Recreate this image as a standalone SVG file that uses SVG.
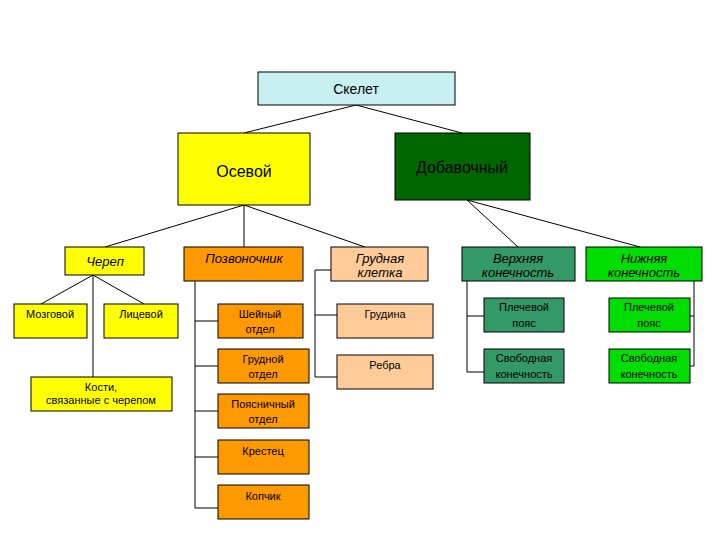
<svg xmlns="http://www.w3.org/2000/svg" width="720" height="540" viewBox="0 0 720 540">
<style>
rect{stroke:#000;stroke-width:1}
text{font-family:"Liberation Sans",Arial,sans-serif;font-size:11px;text-anchor:middle;fill:#000}
.i{font-style:italic;font-size:13px}
.b{font-size:16px}
.y{fill:#ffff00}.o{fill:#ff9900}.p{fill:#ffcc99}.dg{fill:#339966}.lg{fill:#00dd00}
#conn path{fill:none;stroke:#000;stroke-width:1}
</style>
<rect width="720" height="540" fill="#fff" style="stroke:none"/>
<g id="conn">
<path d="M356 105L244 133M356 105L462 133M244 205L105 247M244 205V247M244 205L365 247M467 200L518 247M467 200L640 247M93 275L41 304M93 275L144 304M93 275V377"/>
<path d="M195 281V508M195 321H218M195 366H218M195 411H218M195 457H218M195 508H218"/>
<path d="M331 270H315V377H337M315 315H337"/>
<path d="M467 281V372H484M467 316H484"/>
<path d="M690 316H694M694 281V366H690"/>
</g>
<g id="skelet"><rect x="258" y="72" width="197" height="33" fill="#c8f0f0"/><text x="356" y="94" class="b" style="font-size:14px">Скелет</text></g>
<g id="osevoy"><rect x="178" y="133" width="132" height="72" class="y"/><text x="244" y="177" class="b">Осевой</text></g>
<g id="dobav"><rect x="395" y="133" width="135" height="67" fill="#006600"/><text x="462" y="173" class="b">Добавочный</text></g>
<g id="cherep"><rect x="65" y="247" width="79" height="28" class="y"/><text x="105" y="266" class="i">Череп</text></g>
<g id="pozv"><rect x="184" y="247" width="119" height="34" class="o"/><text x="244" y="263" class="i">Позвоночник</text></g>
<g id="grkl"><rect x="331" y="247" width="97" height="34" class="p"/><text x="380" y="263" class="i">Грудная</text><text x="380" y="277" class="i">клетка</text></g>
<g id="verh"><rect x="462" y="247" width="113" height="34" class="dg"/><text x="518" y="263" class="i">Верхняя</text><text x="518" y="277" class="i">конечность</text></g>
<g id="nizh"><rect x="586" y="247" width="116" height="34" class="lg"/><text x="644" y="263" class="i">Нижняя</text><text x="644" y="277" class="i">конечность</text></g>
<g id="mozg"><rect x="14" y="304" width="73" height="34" class="y"/><text x="50" y="318">Мозговой</text></g>
<g id="lic"><rect x="104" y="304" width="74" height="34" class="y"/><text x="141" y="318">Лицевой</text></g>
<g id="kosti"><rect x="31" y="377" width="141" height="34" class="y"/><text x="101" y="391">Кости,</text><text x="101" y="404">связанные с черепом</text></g>
<g id="shey"><rect x="218" y="304" width="85" height="34" class="o"/><text x="260" y="318">Шейный</text><text x="260" y="333">отдел</text></g>
<g id="grud"><rect x="218" y="349" width="91" height="34" class="o"/><text x="263" y="363">Грудной</text><text x="263" y="378">отдел</text></g>
<g id="poyas"><rect x="218" y="394" width="91" height="34" class="o"/><text x="263" y="408">Поясничный</text><text x="263" y="423">отдел</text></g>
<g id="krest"><rect x="218" y="440" width="91" height="34" class="o"/><text x="263" y="455">Крестец</text></g>
<g id="kop"><rect x="218" y="485" width="91" height="34" class="o"/><text x="263" y="500">Копчик</text></g>
<g id="grudina"><rect x="337" y="304" width="96" height="34" class="p"/><text x="385" y="318">Грудина</text></g>
<g id="rebra"><rect x="337" y="355" width="96" height="34" class="p"/><text x="385" y="369">Ребра</text></g>
<g id="plech1"><rect x="484" y="298" width="80" height="34" class="dg"/><text x="524" y="311">Плечевой</text><text x="524" y="327">пояс</text></g>
<g id="svob1"><rect x="484" y="349" width="80" height="34" class="dg"/><text x="524" y="362">Свободная</text><text x="524" y="378">конечность</text></g>
<g id="plech2"><rect x="609" y="298" width="81" height="34" class="lg"/><text x="649" y="311">Плечевой</text><text x="649" y="327">пояс</text></g>
<g id="svob2"><rect x="609" y="349" width="81" height="34" class="lg"/><text x="649" y="362">Свободная</text><text x="649" y="378">конечность</text></g>
</svg>
